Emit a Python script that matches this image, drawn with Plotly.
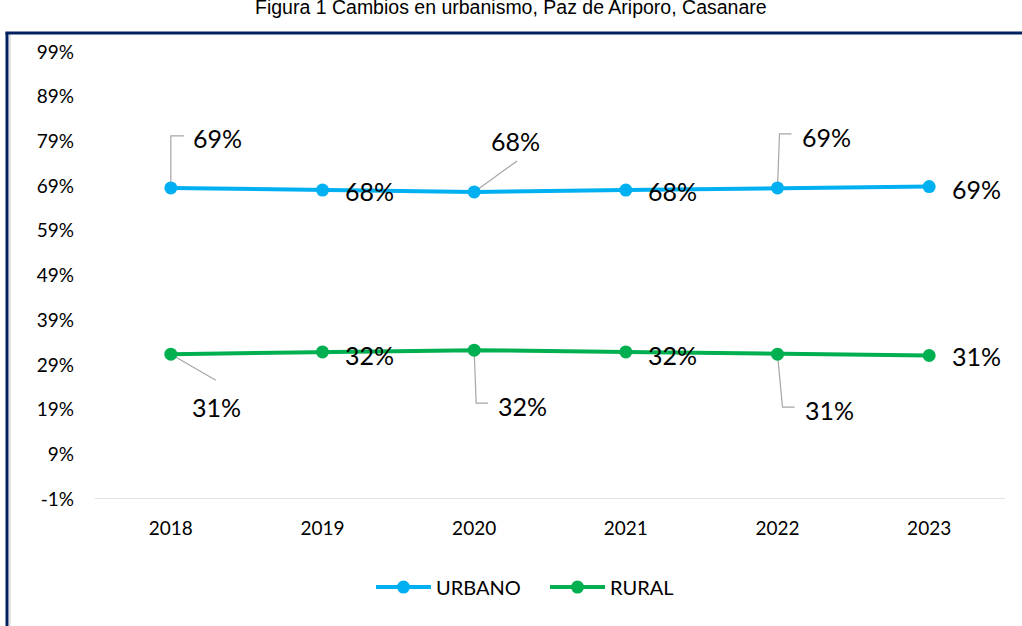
import plotly.graph_objects as go

# datos
anios = ['2018', '2019', '2020', '2021', '2022', '2023']
urbano = [68.6, 68.1, 67.7, 68.1, 68.6, 68.9]
rural = [31.4, 31.9, 32.3, 31.9, 31.4, 31.1]
ticks_y = [-1, 9, 19, 29, 39, 49, 59, 69, 79, 89, 99]

azul = '#00B0F0'
verde = '#00B050'
gris = '#A6A6A6'
fuente = 'Lato, Open Sans, sans-serif'

fig = go.Figure()
fig.add_trace(go.Scatter(x=anios, y=urbano, mode='lines+markers', name='URBANO',
                         line=dict(color=azul, width=4), marker=dict(size=13, color=azul)))
fig.add_trace(go.Scatter(x=anios, y=rural, mode='lines+markers', name='RURAL',
                         line=dict(color=verde, width=4), marker=dict(size=13, color=verde)))

# etiquetas: (desplazamiento x, desplazamiento y, linea guia)
pos_urb = [(47, 50, 'M0,0 L0,52 L13,52'), (47, -1, None), (41, 51, 'M0,0 L43,31'),
           (47, -1, None), (49, 51, 'M0,0 L2,54 L14,54'), (47, -2, None)]
pos_rur = [(46, -53, 'M0,0 L45,-26'), (47, -3, None), (48, -56, 'M0,0 L2,-53 L14,-53'),
           (47, -3, None), (52, -56, 'M0,0 L5,-53 L17,-53'), (47, 0, None)]

# en eje de categorias, la posicion es el indice de la categoria
for serie, pos in [(urbano, pos_urb), (rural, pos_rur)]:
    for i, v in enumerate(serie):
        dx, dy, guia = pos[i]
        fig.add_annotation(x=i, y=v, text=f'{round(v)}%', showarrow=False,
                           xshift=dx, yshift=dy, font=dict(size=25, color='#000000', family=fuente))
        if guia:
            fig.add_shape(type='path', xsizemode='pixel', ysizemode='pixel',
                          xanchor=i, yanchor=v, path=guia,
                          line=dict(color=gris, width=1.2), layer='below')

# titulo (cortado arriba)
fig.add_annotation(xref='paper', yref='paper', x=0.457, y=1.1, yanchor='middle',
                   text='Figura 1 Cambios en urbanismo, Paz de Ariporo, Casanare',
                   showarrow=False, font=dict(size=19.5, color='#000000', family='Liberation Sans, Arial'))

# borde
fig.add_shape(type='line', xref='paper', yref='paper', x0=-0.0967, x1=-0.0967, y0=-0.3, y1=1.0425,
              line=dict(color='#002060', width=3))
fig.add_shape(type='line', xref='paper', yref='paper', x0=-0.0935, x1=-0.0935, y0=-0.3, y1=1.04,
              line=dict(color='#D9D9D9', width=1.5))
fig.add_shape(type='line', xref='paper', yref='paper', x0=-0.0985, x1=1.03, y0=1.0425, y1=1.0425,
              line=dict(color='#002060', width=3))

fig.update_layout(
    width=1022, height=626,
    margin=dict(l=95, r=17, t=52, b=127),
    plot_bgcolor='white', paper_bgcolor='white',
    font=dict(family=fuente, color='#000000'),
    showlegend=True,
    legend=dict(orientation='h', x=0.4945, xanchor='center', y=-0.197, yanchor='middle',
                font=dict(size=20, family=fuente), itemwidth=55, entrywidth=104),
    xaxis=dict(type='category', range=[-0.5, 5.5], showgrid=False, zeroline=False,
               showline=False, ticks='', tickfont=dict(size=19), ticklabelstandoff=16),
    yaxis=dict(range=[-1, 99], tickvals=ticks_y, ticktext=[f'{t}%' for t in ticks_y],
               showgrid=False, zeroline=False, showline=False, tickfont=dict(size=19),
               ticklabelstandoff=20),
)
# linea del eje x
fig.add_shape(type='line', xref='paper', yref='y', x0=0, x1=1, y0=-1, y1=-1,
              line=dict(color='#D9D9D9', width=1.5))

fig.write_html('out.html', config={'displayModeBar': False},
               post_script="document.body.style.margin='0';")
